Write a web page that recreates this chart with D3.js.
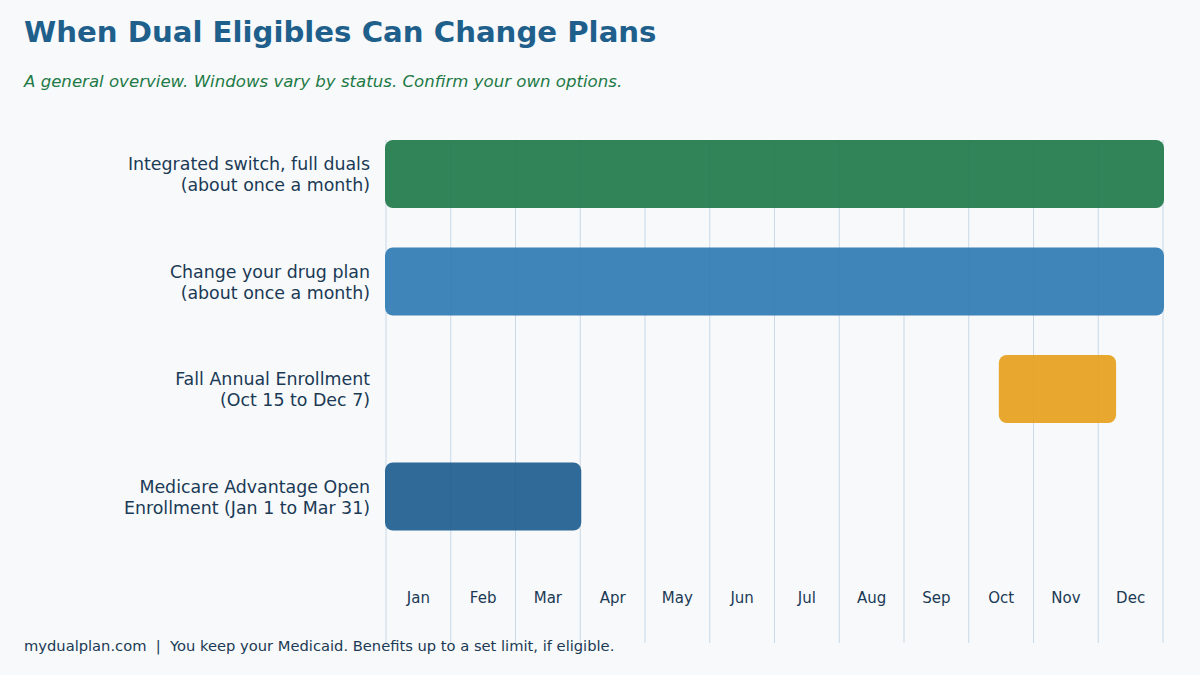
<!DOCTYPE html>
<html>
<head>
<meta charset="utf-8">
<script src="https://cdn.jsdelivr.net/npm/d3@7"></script>
<style>
  body { margin: 0; background: #f7f9fb; }
  svg { display: block; font-family: "DejaVu Sans", sans-serif; }
</style>
</head>
<body>
<svg id="chart" width="1200" height="675"></svg>
<script>
// windows, in months from Jan 1 (0) to Dec 31 (12)
var windows = [
  ["Integrated switch, full duals", "(about once a month)"],
  ["Change your drug plan", "(about once a month)"],
  ["Fall Annual Enrollment", "(Oct 15 to Dec 7)"],
  ["Medicare Advantage Open", "Enrollment (Jan 1 to Mar 31)"]
];
var starts = [0, 0, 9.48, 0];
var ends = [12, 12, 11.26, 3];
var colors = ["#1f7a4a", "#2f7bb3", "#e6a11d", "#1d5d8f"];
var months = ["Jan","Feb","Mar","Apr","May","Jun","Jul","Aug","Sep","Oct","Nov","Dec"];

var w = 1200, h = 675;
var svg = d3.select("#chart");
svg.append("rect").attr("width", w).attr("height", h).attr("fill", "#f7f9fb");

var x = d3.scaleLinear().domain([0, 12]).range([386, 1163]);
var y = d3.scaleBand().domain(d3.range(windows.length))
  .range([140, 530.5]).paddingInner(0.367).paddingOuter(0);

// vertical grid
svg.append("g").selectAll("line")
  .data(d3.range(13))
  .join("line")
  .attr("x1", d => x(d)).attr("x2", d => x(d))
  .attr("y1", 140).attr("y2", 643)
  .attr("stroke", "#c9d9e7").attr("stroke-width", 1);

// bars
svg.append("g").selectAll("rect")
  .data(windows)
  .join("rect")
  .attr("x", (d, i) => x(starts[i]) - 1)
  .attr("y", (d, i) => y(i))
  .attr("width", (d, i) => x(ends[i]) - x(starts[i]) + 2)
  .attr("height", y.bandwidth())
  .attr("rx", 8).attr("ry", 8)
  .attr("fill", (d, i) => colors[i])
  .attr("fill-opacity", 0.92);

// row labels
var lab = svg.append("g").selectAll("text")
  .data(windows)
  .join("text")
  .attr("x", 370)
  .attr("y", (d, i) => y(i) + y.bandwidth() / 2)
  .attr("text-anchor", "end")
  .attr("fill", "#1b3a55")
  .attr("font-size", "17.4px");
lab.append("tspan").attr("x", 370).attr("dy", "-0.22em").text(d => d[0]);
lab.append("tspan").attr("x", 370).attr("dy", "1.2em").text(d => d[1]);

// month labels
svg.append("g").selectAll("text")
  .data(months)
  .join("text")
  .attr("x", (d, i) => x(i + 0.5))
  .attr("y", 603)
  .attr("text-anchor", "middle")
  .attr("fill", "#1b3a55")
  .attr("font-size", "15px")
  .text(d => d);

svg.append("text")
  .attr("x", 24).attr("y", 42)
  .attr("fill", "#1f5f8b")
  .attr("font-size", "29.2px").attr("font-weight", "bold")
  .text("When Dual Eligibles Can Change Plans");

svg.append("text")
  .attr("x", 24).attr("y", 87)
  .attr("fill", "#1e7a46")
  .attr("font-size", "16.6px").attr("font-style", "italic")
  .text("A general overview. Windows vary by status. Confirm your own options.");

svg.append("text")
  .attr("x", 24).attr("y", 651)
  .attr("fill", "#1b3a55")
  .attr("font-size", "14.7px")
  .attr("xml:space", "preserve")
  .text("mydualplan.com  |  You keep your Medicaid. Benefits up to a set limit, if eligible.");
</script>
</body>
</html>
